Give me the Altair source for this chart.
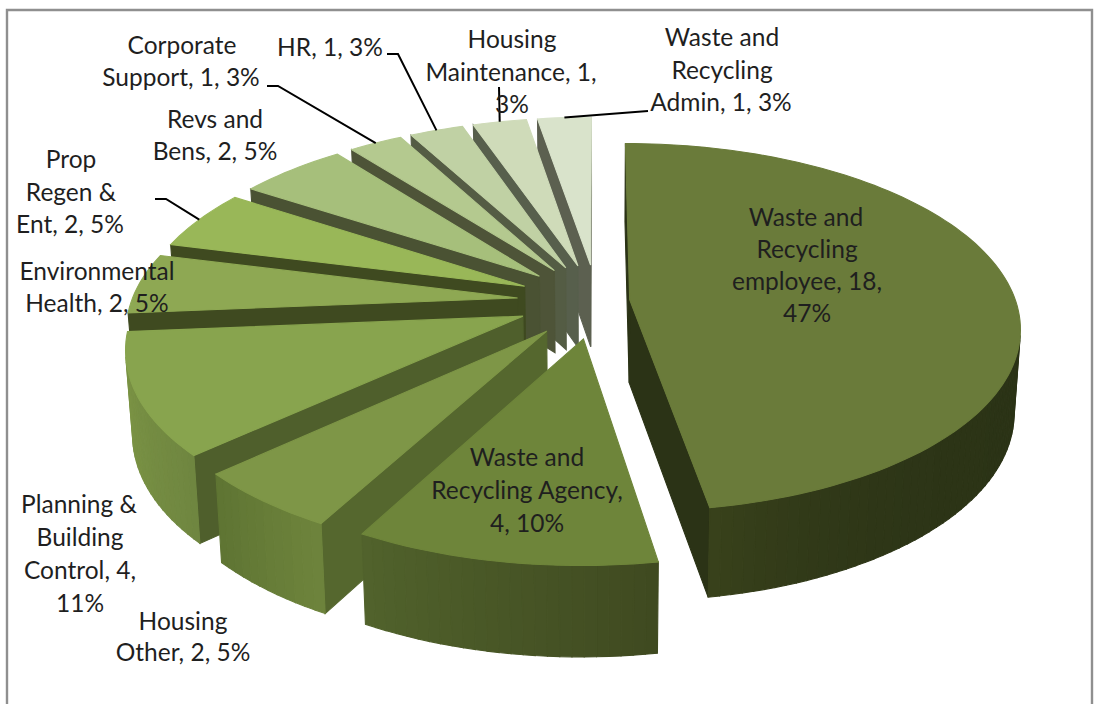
import math
import altair as alt

# Complaint counts per service, in pie order (clockwise from twelve o'clock)
SERVICES = [
    "Waste and Recycling employee", "Waste and Recycling Agency", "Housing Other",
    "Planning & Building Control", "Environmental Health", "Prop Regen & Ent",
    "Revs and Bens", "Corporate Support", "HR", "Housing Maintenance",
    "Waste and Recycling Admin",
]
VALUES = [18, 4, 2, 4, 2, 2, 2, 1, 1, 1, 1]
LABEL_LINES = [
    ["Waste and", "Recycling", "employee, 18,", "47%"],
    ["Waste and", "Recycling Agency,", "4, 10%"],
    ["Housing", "Other, 2, 5%"],
    ["Planning &", "Building", "Control, 4,", "11%"],
    ["Environmental", "Health, 2, 5%"],
    ["Prop", "Regen &", "Ent, 2, 5%"],
    ["Revs and", "Bens, 2, 5%"],
    ["Corporate", "Support, 1, 3%"],
    ["HR, 1, 3%"],
    ["Housing", "Maintenance, 1,", "3%"],
    ["Waste and", "Recycling", "Admin, 1, 3%"],
]

# Slice colours: top face, radial wall, outer wall at both ends of the arc
TOP_COLORS = ["#6a7b3a", "#6e853a", "#7e9647", "#88a44e", "#8ea853", "#99b758",
              "#a6bf7b", "#b4c98f", "#c0d1a4", "#cfdbb9", "#d9e3cb"]
WALL_COLORS = ["#2b3316", "#3f4c20", "#55672e", "#4f5f2c", "#3f4a20", "#3f4a20",
               "#4a5233", "#4e5438", "#545c44", "#575f4c", "#5c6050"]
RIM_COLORS = [("#2b3316", "#39421b"), ("#3f4a20", "#51622c"), ("#6e843c", "#5e7433"),
              ("#6f8640", "#7f9846"), ("#7f9846", "#7f9846"), ("#8aa550", "#8aa550"),
              ("#8aa550", "#8aa550"), ("#8aa550", "#8aa550"), ("#8aa550", "#8aa550"),
              ("#8aa550", "#8aa550"), ("#8aa550", "#8aa550")]
# The large slice keeps its dark wall until close to the end of its arc
RIM_EASE = [10, 1, 1, 1, 1, 1, 1, 1, 1, 1, 1]
EXPLODE = [0.085] + [0.207] * 10

# Camera model of the tilted pie
CX, CY, RX, RY, PERSPECTIVE = 597, 301, 386, 180, 0.15


def project(px, py, bottom=False):
    s = 1 / (1 + PERSPECTIVE * py)
    x = CX + RX * px * s
    y = CY - RY * py * s
    if bottom:
        y += 45 + 38 * s
        x = CX + (x - CX) * 0.985
    return [round(x, 2), round(y, 2)]


def rim_xy(i, angle, radius=1.0):
    mid = slices[i][2]
    e = EXPLODE[i]
    return (e * math.sin(mid) + radius * math.sin(angle),
            e * math.cos(mid) + radius * math.cos(angle))


def signed_area(points):
    return sum(points[k][0] * points[(k + 1) % len(points)][1]
               - points[(k + 1) % len(points)][0] * points[k][1]
               for k in range(len(points)))


def mix(a, b, t):
    ca = [int(a[k:k + 2], 16) for k in (1, 3, 5)]
    cb = [int(b[k:k + 2], 16) for k in (1, 3, 5)]
    return "#" + "".join(f"{round(u + (v - u) * t):02x}" for u, v in zip(ca, cb))


def polygon(points, color):
    return {"type": "Feature",
            "properties": {"color": color},
            "geometry": {"type": "Polygon", "coordinates": [points + [points[0]]]}}


def polyline(points, name):
    return {"type": "Feature",
            "properties": {"name": name},
            "geometry": {"type": "LineString", "coordinates": points}}


total = sum(VALUES)
slices = []
start = 0.0
for v in VALUES:
    sweep = 2 * math.pi * v / total
    slices.append((start, start + sweep, start + sweep / 2))
    start += sweep

# Faces are listed back to front, so later slices paint over earlier ones
faces = []
for i in [0] + list(range(len(VALUES) - 1, 0, -1)):
    a0, a1, _ = slices[i]
    apex = rim_xy(i, 0, 0)
    p0, p1 = rim_xy(i, a0), rim_xy(i, a1)

    start_wall = [project(*apex), project(*p0), project(*p0, True), project(*apex, True)]
    if signed_area(start_wall) < 0:
        faces.append(polygon(start_wall, WALL_COLORS[i]))
    end_wall = [project(*p1), project(*apex), project(*apex, True), project(*p1, True)]
    if signed_area(end_wall) < 0:
        faces.append(polygon(end_wall, WALL_COLORS[i]))

    steps = max(6, int((a1 - a0) / math.radians(1.5)))
    arc = [a0 + (a1 - a0) * k / steps for k in range(steps + 1)]
    strips = []
    for k in range(steps):
        u, w = rim_xy(i, arc[k]), rim_xy(i, arc[k + 1])
        quad = [project(*u), project(*w), project(*w, True), project(*u, True)]
        if signed_area(quad) < 0:
            strips.append((k, quad))
    # Draw the wall from the far ends of the arc toward the viewer
    strips.sort(key=lambda item: max(q[1] for q in item[1]))
    for k, quad in strips:
        t = ((k + 0.5) / steps) ** RIM_EASE[i]
        faces.append(polygon(quad, mix(RIM_COLORS[i][0], RIM_COLORS[i][1], t)))

    top = [project(*apex)] + [project(*rim_xy(i, a)) for a in arc]
    faces.append(polygon(top, TOP_COLORS[i]))

# Label layout: line centres in chart pixels, first line's middle and line pitch
LABEL_LAYOUT = {
    0: ([806, 807, 807, 807], 218.5, 32),
    1: ([527, 527, 527], 458.5, 33),
    2: ([183, 183], 623, 31),
    3: ([79, 80, 80, 80], 506, 33),
    4: ([97, 97], 273, 32),
    5: ([71, 71, 70], 161, 32.5),
    6: ([215, 215], 121, 32),
    7: ([182, 181], 47, 32),
    8: ([330], 49, 32),
    9: ([512, 511, 512], 41, 32.5),
    10: ([722, 722, 721], 39, 32.5),
}
label_rows = []
for i, lines in enumerate(LABEL_LINES):
    xs, y0, pitch = LABEL_LAYOUT[i]
    for n, line in enumerate(lines):
        label_rows.append({"text": line, "lon": xs[n], "lat": y0 + n * pitch})

# Leader lines run from the rim's midpoint to an elbow beside the label
LEADER_ELBOWS = {
    5: [[166, 199], [155, 199]],
    7: [[278, 86], [267, 86]],
    8: [[398, 54], [387, 54]],
    9: [[499, 87]],
    10: [[648, 111]],
}
leaders = []
for i, elbow in LEADER_ELBOWS.items():
    leaders.append(polyline([project(*rim_xy(i, slices[i][2]))] + elbow, SERVICES[i]))

frame = [polyline([[7, 704], [7, 10], [1092, 10], [1092, 704]], "frame")]

frame_layer = alt.Chart(alt.Data(values=frame)).mark_geoshape(
    fill=None, filled=False, stroke="#8f8f8f", strokeWidth=2.4)
face_layer = alt.Chart(alt.Data(values=faces)).mark_geoshape(strokeWidth=1.1).encode(
    fill=alt.Fill("properties.color:N", scale=None),
    stroke=alt.Stroke("properties.color:N", scale=None),
)
leader_layer = alt.Chart(alt.Data(values=leaders)).mark_geoshape(
    fill=None, filled=False, stroke="#000000", strokeWidth=2)
text_layer = alt.Chart(alt.Data(values=label_rows)).mark_text(
    font="Lato", fontSize=24.5, color="#1f1f1f", align="center", baseline="middle"
).encode(longitude="lon:Q", latitude="lat:Q", text="text:N")

chart = alt.layer(frame_layer, face_layer, leader_layer, text_layer).project(
    type="identity", scale=1, translate=[0, 0]
).properties(
    width=1094, height=704, padding=0, background="#ffffff",
    autosize=alt.AutoSizeParams(type="none"),
).configure_view(stroke=None)

chart.save("out.html", embed_options={"renderer": "svg", "actions": False})
